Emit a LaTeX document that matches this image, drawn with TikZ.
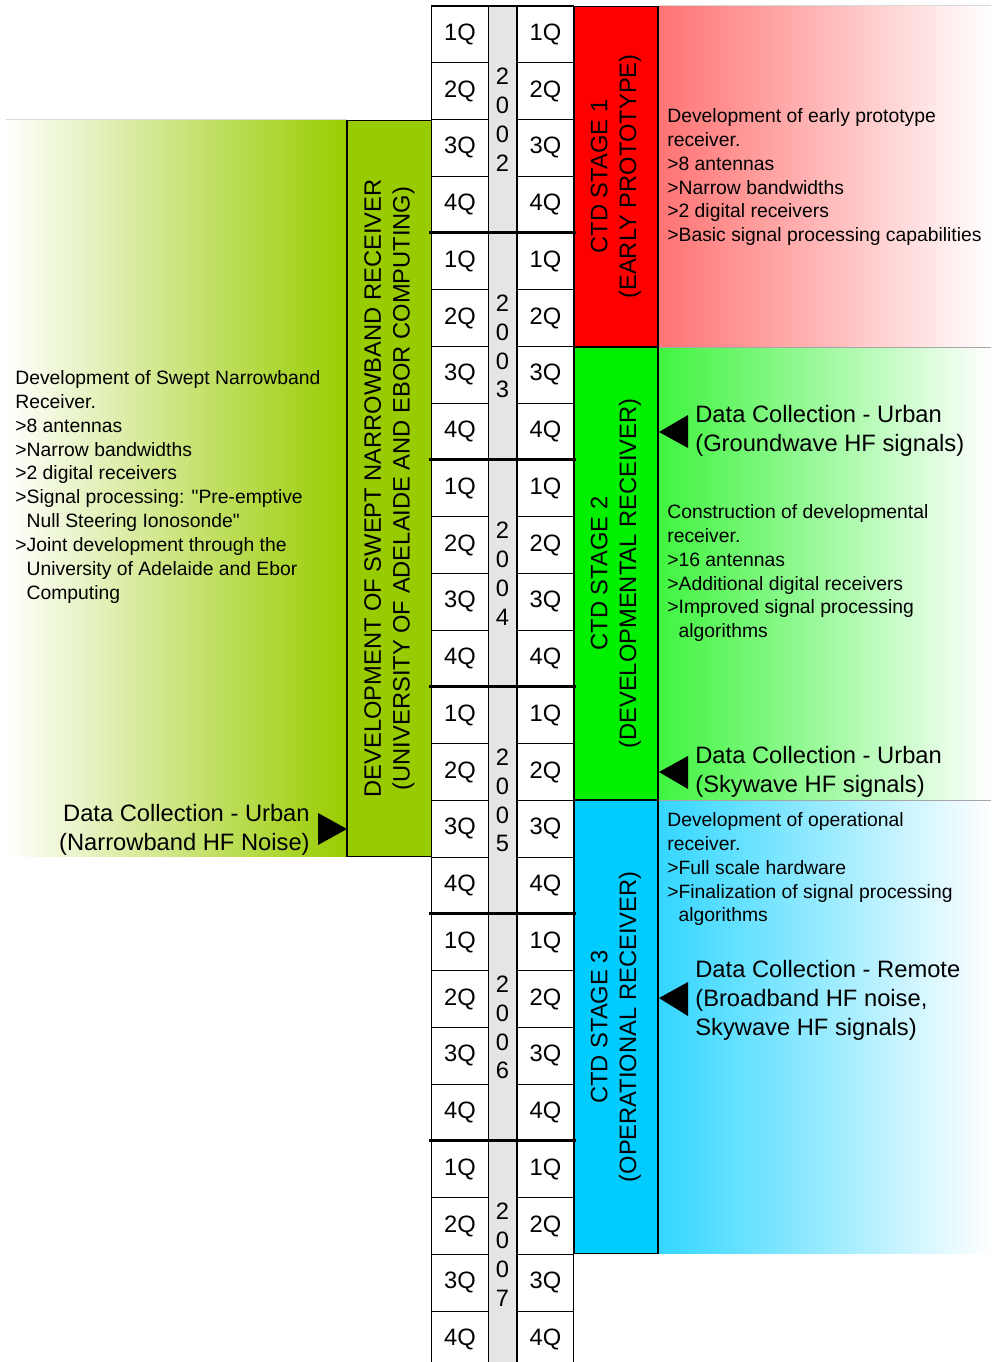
\documentclass[tikz,border=0pt]{standalone}
\usepackage{fontspec}
\setmainfont{Liberation Sans}
\usetikzlibrary{positioning}
\definecolor{sweptgreen}{RGB}{153,204,0}
\definecolor{stagered}{RGB}{255,0,0}
\definecolor{stagegreen}{RGB}{0,240,0}
\definecolor{stagecyan}{RGB}{0,204,255}
\newcommand{\bigfont}{\fontsize{13.5}{16.4}\selectfont}
\newcommand{\smallfont}{\fontsize{11}{13.6}\selectfont}
\tikzstyle{quarter} = [rectangle, draw=black, line width=0.6pt, fill=white, minimum width=1.13cm, minimum height=1.135cm, inner sep=0pt, font=\bigfont]
\tikzstyle{year} = [rectangle, draw=black, line width=0.6pt, fill=gray!20, minimum width=0.575cm, minimum height=4.54cm, inner sep=0pt, align=center, font=\bigfont]
\tikzstyle{stage} = [rectangle, draw=black, line width=0.6pt, rotate=90, minimum height=1.68cm, inner sep=0pt, align=center, font=\bigfont]
\tikzstyle{panel} = [rectangle, inner sep=0pt]
\tikzstyle{notes} = [anchor=north west, inner sep=0pt, align=left, font=\smallfont]
\tikzstyle{collect} = [anchor=north west, inner sep=0pt, align=left, font=\bigfont]
\tikzstyle{tipmark} = [fill=black]
\tikzstyle{yearline} = [line width=1.8pt, black]
\tikzstyle{seam} = [line width=0.6pt, gray!70]

\begin{document}
\begin{tikzpicture}[x=0.02cm, y=-0.02cm]

\useasboundingbox (0,0) rectangle (991,1362);
\clip (0,0) rectangle (991,1362);

%%% shaded panels behind the notes
\node (pnlL) [panel, left color=white, right color=sweptgreen, minimum width=6.82cm, minimum height=14.74cm] at (176.5,488.5) {};
\node (pnlA) [panel, left color=stagered!55, right color=white, minimum width=6.66cm, minimum height=6.82cm] at (824.5,176.5) {};
\node (pnlB) [panel, left color=stagegreen!75, right color=white, minimum width=6.66cm, minimum height=9.06cm] at (824.5,573.5) {};
\node (pnlC) [panel, left color=stagecyan!80, right color=white, minimum width=6.66cm, minimum height=9.08cm] at (824.5,1027) {};
\draw [seam] (pnlA.south west) -- (pnlA.south east);
\draw [seam] (pnlB.south west) -- (pnlB.south east);
\draw [gray!30] (pnlA.north west) -- (pnlA.north east);
\draw [gray!30] (pnlL.north west) -- (pnlL.north east);

%%% stages
\node (swept) [stage, fill=sweptgreen, minimum width=14.74cm, minimum height=1.70cm] at (389.5,488.5) {DEVELOPMENT OF SWEPT NARROWBAND RECEIVER\\(UNIVERSITY OF ADELAIDE AND EBOR COMPUTING)};
\node (stage1) [stage, fill=stagered, minimum width=6.82cm] at (616,176.5) {CTD STAGE 1\\(EARLY PROTOTYPE)};
\node (stage2) [stage, fill=stagegreen, minimum width=9.06cm] at (616,573.5) {CTD STAGE 2\\(DEVELOPMENTAL RECEIVER)};
\node (stage3) [stage, fill=stagecyan, minimum width=9.08cm] at (616,1027) {CTD STAGE 3\\(OPERATIONAL RECEIVER)};

%%% quarters and years
\foreach \d [count=\i from 0] in {2,...,7} {
  \node (yr\d) [year] at (502.5,{119.5+227*\i}) {2\\0\\0\\\d};
  \foreach \q in {1,...,4} {
    \node (lq\d\q) [quarter] at (460,{6+227*\i+56.75*(\q-0.5)}) {\q Q};
    \node (rq\d\q) [quarter] at (545.5,{6+227*\i+56.75*(\q-0.5)}) {\q Q};
  }
}
\foreach \d in {3,...,7}
  \draw [yearline] ([xshift=-0.04cm]lq\d1.north west) -- ([xshift=0.04cm]rq\d1.north east);

%%% notes
\node (noteL) [notes] at (15,370) {Development of Swept Narrowband\\Receiver.\\>8 antennas\\>Narrow bandwidths\\>2 digital receivers\\>Signal processing: \textquotedbl Pre-emptive\\\hphantom{>}Null Steering Ionosonde\textquotedbl\\>Joint development through the\\\hphantom{>}University of Adelaide and Ebor\\\hphantom{>}Computing};
\node (noteA) [notes] at (667,108) {Development of early prototype\\receiver.\\>8 antennas\\>Narrow bandwidths\\>2 digital receivers\\>Basic signal processing capabilities};
\node (noteB) [notes] at (667,504) {Construction of developmental\\receiver.\\>16 antennas\\>Additional digital receivers\\>Improved signal processing\\\hphantom{>}algorithms};
\node (noteC) [notes] at (667,812) {Development of operational\\receiver.\\>Full scale hardware\\>Finalization of signal processing\\\hphantom{>}algorithms};

%%% data collection
\node (collL) [collect, anchor=north east, align=right] at (310,804) {Data Collection - Urban\\(Narrowband HF Noise)};
\node (collA) [collect] at (695,405) {Data Collection - Urban\\(Groundwave HF signals)};
\node (collB) [collect] at (695,746) {Data Collection - Urban\\(Skywave HF signals)};
\node (collC) [collect] at (695,960) {Data Collection - Remote\\(Broadband HF noise,\\Skywave HF signals)};

\fill [tipmark] (347,829) -- (318,813) -- (318,845) -- cycle;
\fill [tipmark] (659,432) -- (688,415) -- (688,448) -- cycle;
\fill [tipmark] (659,772) -- (688,756) -- (688,789) -- cycle;
\fill [tipmark] (659,998) -- (688,982) -- (688,1016) -- cycle;

\end{tikzpicture}
\end{document}
